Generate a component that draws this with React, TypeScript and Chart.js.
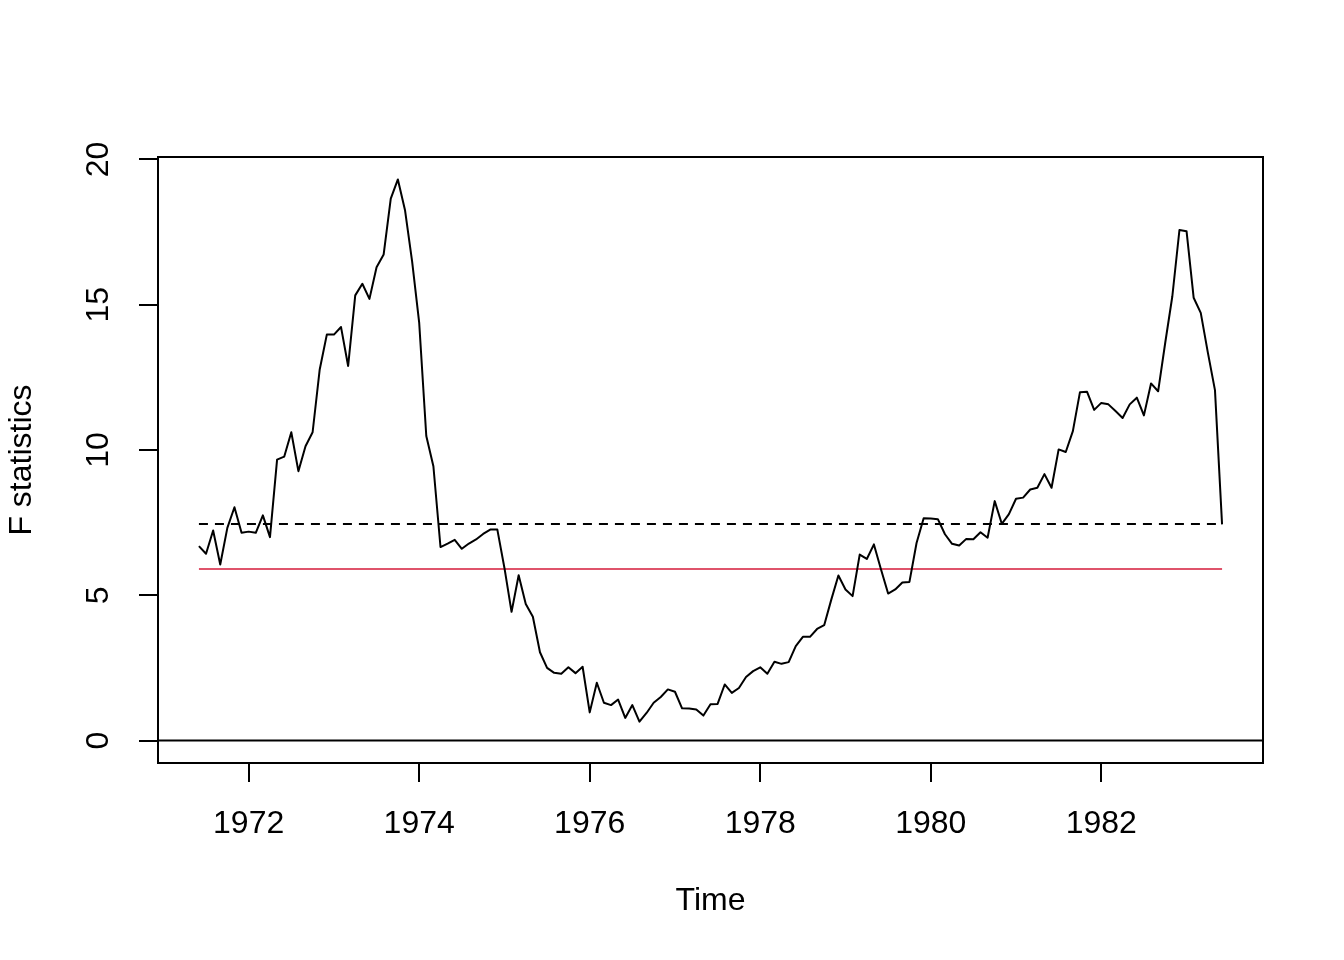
import { useEffect, useRef } from 'react';
import { Chart, registerables } from 'chart.js';
Chart.register(...registerables);

// monthly series, first observation 1971(6)
const startYear = 1971;
const startMonth = 6;
const fStats = [
  6.69, 6.43, 7.23, 6.06, 7.32, 8.03, 7.15, 7.19, 7.15, 7.75, 7.0, 9.67,
  9.77, 10.61, 9.27, 10.13, 10.61, 12.77, 13.97, 13.97, 14.23, 12.89, 15.32, 15.72,
  15.2, 16.29, 16.73, 18.65, 19.31, 18.26, 16.5, 14.38, 10.48, 9.44, 6.66, 6.78,
  6.91, 6.6, 6.78, 6.92, 7.11, 7.26, 7.26, 5.94, 4.43, 5.69, 4.7, 4.26,
  3.04, 2.5, 2.33, 2.3, 2.52, 2.32, 2.54, 0.97, 1.99, 1.3, 1.22, 1.41,
  0.78, 1.22, 0.65, 0.95, 1.3, 1.5, 1.76, 1.68, 1.11, 1.1, 1.07, 0.86,
  1.25, 1.26, 1.93, 1.64, 1.81, 2.19, 2.39, 2.52, 2.3, 2.71, 2.64, 2.7,
  3.25, 3.57, 3.57, 3.84, 3.97, 4.85, 5.68, 5.2, 4.97, 6.4, 6.25, 6.75,
  5.89, 5.06, 5.2, 5.44, 5.46, 6.8, 7.65, 7.64, 7.62, 7.1, 6.77, 6.71,
  6.94, 6.93, 7.17, 6.98, 8.24, 7.46, 7.79, 8.32, 8.36, 8.64, 8.7, 9.17,
  8.7, 10.02, 9.93, 10.65, 11.99, 12.0, 11.38, 11.62, 11.57, 11.34, 11.1, 11.57,
  11.8, 11.19, 12.29, 12.02, 13.69, 15.29, 17.57, 17.53, 15.24, 14.72, 13.35, 12.06,
  7.44,
];
const boundary = 7.45; // dashed critical value
const meanLine = 5.9; // red reference line
const xTicks = [1972, 1974, 1976, 1978, 1980, 1982];
const yTicks = [0, 5, 10, 15, 20];

const FONT = "'Liberation Sans', Arimo, Arial, sans-serif";

export default function App() {
  const ref = useRef<HTMLCanvasElement | null>(null);

  useEffect(() => {
    if (!ref.current) return;
    const ctx = ref.current.getContext('2d');
    if (!ctx) return;

    const times = fStats.map((_, i) => startYear + (startMonth - 1 + i) / 12);
    const t0 = times[0];
    const t1 = times[times.length - 1];
    const xPad = (t1 - t0) * 0.04;
    const yMax = Math.max(...fStats);
    const yPad = yMax * 0.04;
    const xMin = t0 - xPad;
    const xMax = t1 + xPad;

    const boxPlugin = {
      id: 'box',
      afterDraw(c: any) {
        const { left, top, right, bottom } = c.chartArea;
        const g = c.ctx;
        g.save();
        g.strokeStyle = '#000';
        g.lineWidth = 2;
        g.strokeRect(left, top, right - left, bottom - top);
        g.restore();
      },
    };

    const chart = new Chart(ctx, {
      type: 'line',
      data: {
        datasets: [
          {
            data: fStats.map((v, i) => ({ x: times[i], y: v })),
            borderColor: '#000',
            borderWidth: 2,
            borderJoinStyle: 'round',
            pointRadius: 0,
            tension: 0,
          },
          {
            data: [{ x: t0, y: boundary }, { x: t1, y: boundary }],
            borderColor: '#000',
            borderWidth: 2,
            borderDash: [9, 7],
            pointRadius: 0,
          },
          {
            data: [{ x: t0, y: meanLine }, { x: t1, y: meanLine }],
            borderColor: '#DF536B',
            borderWidth: 2,
            pointRadius: 0,
          },
          {
            data: [{ x: xMin, y: 0 }, { x: xMax, y: 0 }],
            borderColor: '#000',
            borderWidth: 2,
            pointRadius: 0,
          },
        ],
      },
      options: {
        responsive: false,
        animation: false,
        devicePixelRatio: 1,
        layout: { padding: { left: 0, right: 81, top: 157, bottom: 0 } },
        plugins: { legend: { display: false }, tooltip: { enabled: false } },
        font: { family: FONT, size: 32 } as any,
        scales: {
          x: {
            type: 'linear',
            min: xMin,
            max: xMax,
            afterFit: (s: any) => { s.height = 197; },
            afterBuildTicks: (s: any) => { s.ticks = xTicks.map((v) => ({ value: v })); },
            grid: { drawOnChartArea: false, drawTicks: true, tickLength: 19, color: '#000', lineWidth: 2 },
            border: { display: false },
            ticks: {
              color: '#000',
              font: { family: FONT, size: 32 },
              padding: 23,
              maxRotation: 0,
              autoSkip: false,
              callback: (v: any) => String(v),
            },
            title: {
              display: true,
              text: 'Time',
              color: '#000',
              font: { family: FONT, size: 32 },
              padding: { top: 0, bottom: 40 },
            },
          },
          y: {
            type: 'linear',
            min: -yPad,
            max: yMax + yPad,
            afterFit: (s: any) => { s.width = 158; },
            afterBuildTicks: (s: any) => { s.ticks = yTicks.map((v) => ({ value: v })); },
            grid: { drawOnChartArea: false, drawTicks: true, tickLength: 19, color: '#000', lineWidth: 2 },
            border: { display: false },
            ticks: {
              color: '#000',
              font: { family: FONT, size: 32 },
              padding: 22,
              minRotation: 90,
              maxRotation: 90,
              crossAlign: 'center',
              autoSkip: false,
              callback: (v: any) => String(v),
            },
            title: {
              display: true,
              text: 'F statistics',
              color: '#000',
              font: { family: FONT, size: 32 },
              padding: { top: 3, bottom: 0 },
            },
          },
        },
      },
      plugins: [boxPlugin],
    } as any);
    return () => chart.destroy();
  }, []);

  return (
    <div style={{ position: 'absolute', left: 0, top: 0, width: 1344, height: 960, background: '#fff' }}>
      <canvas ref={ref} width={1344} height={960} style={{ width: 1344, height: 960 }} />
    </div>
  );
}
